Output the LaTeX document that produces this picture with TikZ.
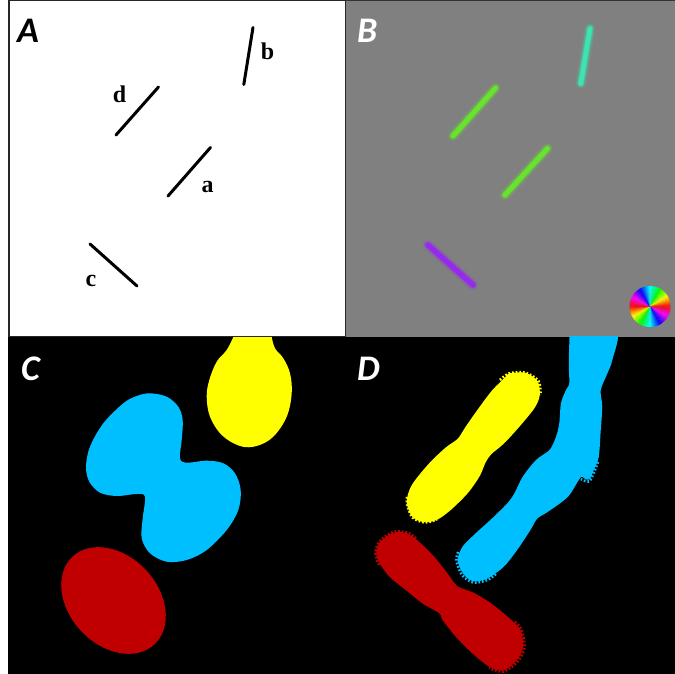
\documentclass[tikz,border=0pt]{standalone}
\usepackage{fontspec}
\newfontfamily\labelfont{Carlito}
\newfontfamily\letterfont{Liberation Serif}
\definecolor{skyc}{RGB}{0,191,255}
\definecolor{yelc}{RGB}{255,255,0}
\definecolor{redc}{RGB}{192,0,0}
\definecolor{graybg}{RGB}{128,128,128}
\definecolor{tealc}{RGB}{60,228,178}
\definecolor{greenc}{RGB}{104,228,44}
\definecolor{violc}{RGB}{150,40,240}
\newcommand\glowseg[3]{%
  \foreach \w/\o in {11/0.10,9/0.16,7/0.3,5.5/0.6,4/1}{%
    \draw[#1, line width=\w, line cap=round, opacity=\o] #2 -- #3;}}
\tikzset{
  panellabel/.style={font=\labelfont\bfseries\itshape\fontsize{36}{36}\selectfont, inner sep=0, anchor=base west},
  letterlabel/.style={font=\letterfont\bfseries\fontsize{24}{24}\selectfont, inner sep=0, anchor=base},
  stickline/.style={black, line width=3, line cap=round},
  teeth/.style={#1, line width=2.6, dash pattern=on 1.7 off 1.9},
  rod/.style={fill=#1, draw=#1, line width=3.5, line join=round},
}
\begin{document}
\begin{tikzpicture}[x=1pt,y=-1pt]
\useasboundingbox (0,0) rectangle (675,674);
\fill[white] (0,0) rectangle (675,674);

% ---------- panel backgrounds ----------
\fill[black] (8,336) rectangle (675,674);
\fill[graybg] (345.5,0) rectangle (675,336.5);
\draw[black!85, line width=1.5] (9,0.75) rectangle (345.5,336.5);
\draw[black!80, line width=1.5] (345.5,0.75) -- (675,0.75);

% ---------- panel A: line segments ----------
\draw[stickline] (253,27.5) -- (243.8,84.5);
\draw[stickline] (158.5,87) -- (116,135);
\draw[stickline] (210.5,147.5) -- (168,196);
\draw[stickline] (90,244) -- (137,286);
\node[letterlabel] (lb) at (267.5,59.5) {b};
\node[letterlabel] (ld) at (119.5,103) {d};
\node[letterlabel] (la) at (207.5,193) {a};
\node[letterlabel] (lc) at (91,286) {c};
\node[panellabel] (pA) at (17,42.5) {A};

% ---------- panel B: orientation-coded segments ----------
\glowseg{tealc}{(590,28.5)}{(580.8,83.5)}
\glowseg{greenc}{(495.5,88)}{(453,136)}
\glowseg{greenc}{(547.5,148.5)}{(505,195)}
\glowseg{violc}{(428,245)}{(473,285)}
\node[panellabel, text=white] (pB) at (357,42.5) {B};

% orientation colour wheel
\foreach \i in {0,...,119}{
  \pgfmathsetmacro\a{\i*3}
  \pgfmathsetmacro\h{mod(720-2*(\a+1.5),360)/360}
  \definecolor{wc}{hsb}{\h,1,1}
  \fill[wc] (650,306.5) -- ++(\a:20.5) arc[start angle=\a, delta angle=3.3, radius=20.5] -- cycle;
}

% ---------- panel C: blobs ----------
\fill[yelc] plot[smooth, tension=0.6] coordinates {
  (233.3,337) (226.7,350) (216.7,361.7) (209.3,380) (206.7,396.7) (210,416.7)
  (221.7,435) (240,446) (256.7,446) (273.3,436.7) (286.7,416.7) (291.7,393.3)
  (290,373.3) (283.3,358.3) (275,348.3) (271.7,337)} -- cycle;

\fill[skyc] plot[smooth cycle, tension=0.55] coordinates {
  (150,393.3) (166.7,396.7) (178.3,406.7) (182.7,420) (181.7,440) (180,458.3)
  (186.7,462.7) (206.7,460.7) (223.3,463.3) (235,473.3) (240.7,490) (238.3,510)
  (226.7,530) (206.7,550) (186.7,560) (166.7,561.7) (150,553.3) (141.7,538.3)
  (142.7,518.3) (145,496.7) (136.7,494) (116.7,496) (100,492.7) (89.3,481.7)
  (86,466.7) (90,446.7) (103.3,423.3) (123.3,403.3) (136.7,396)};

\fill[redc, shift={(113.5,600.5)}, rotate=-47] (0,0) ellipse [x radius=60, y radius=44.5];
\node[panellabel, text=white] (pC) at (21,380) {C};

% ---------- panel D: segmented objects ----------
\begin{scope}
\clip (8,336.8) rectangle (675,674);
\path[rod=yelc] plot[smooth cycle, tension=0.5] coordinates {
  (510,375) (525,374.5) (536,382) (538,395) (533.3,406.7) (520,423.3)
  (503.3,441.7) (490,453) (484,461.7) (478.3,475) (466.7,491.7) (450,508.3)
  (436.7,518) (425,520.5) (414,516) (408.5,502) (413.3,486) (430,465)
  (446.7,449) (459,440) (466.7,428.3) (478.3,411.7) (493.3,391.7) (506.7,378.3)};
\draw[teeth=yelc] plot[smooth, tension=0.5] coordinates {
  (500,380) (509,373.5) (525,372.5) (538.5,381) (540.5,395)};
\draw[teeth=yelc] plot[smooth, tension=0.5] coordinates {
  (407,497) (407,504) (412.5,517.5) (425,522.5) (437,519.5)};

\path[rod=skyc] plot[smooth, tension=0.5] coordinates {
  (571.5,330) (614.5,330) (610.5,360) (605.5,373.3) (599,390) (600.5,406.7)
  (599,430) (597,456.7) (592.3,469) (588,478) (580,475.5) (566.7,495.5)
  (546.7,510.5) (536,517.3) (529,529) (515.7,549) (502.5,565.5) (486.5,577)
  (473.5,579.5) (464.5,572.5) (459.5,560) (464.3,547.2) (477.5,534)
  (494,519) (509,504) (516,494) (524.3,477.5) (537.5,461) (551,451)
  (557.7,437.2) (561,423.5) (562.7,403.5) (567.7,390.5) (571,383.5) (570.5,363.3)
  (571.5,330)} -- cycle;
\draw[teeth=skyc] plot[smooth, tension=0.5] coordinates {
  (458,552) (456.5,561) (462,575) (473.3,582.5) (487.5,580) (497,573)};
\draw[teeth=skyc] plot[smooth, tension=0.5] coordinates {
  (598,462) (594.5,471) (589,481.5) (581,479)};

\path[rod=redc] plot[smooth cycle, tension=0.5] coordinates {
  (381,543.5) (393.3,534.5) (406.7,535) (419,544) (432.3,557.2) (445.7,573.8)
  (456.2,587.5) (472.8,594.3) (489.3,604.2) (505.8,617.5) (518.8,630.5) (521.3,646.5)
  (515.5,659) (503,668.7) (490.5,665.5) (474,652.5) (457.4,635.9) (444.2,619.3)
  (441,612.3) (424,602.3) (407.4,589.1) (391,575.8) (381.3,562.7) (378,553.3)};
\draw[teeth=redc] plot[smooth, tension=0.5] coordinates {
  (379,565) (375.5,553.3) (379,542) (393,532) (407,532.5) (417,539)};
\draw[teeth=redc] plot[smooth, tension=0.5] coordinates {
  (515,622) (521.5,629.5) (524.5,647) (518,661) (503.5,671.5) (489,668)};
\end{scope}
\node[panellabel, text=white] (pD) at (357,380) {D};
\end{tikzpicture}
\end{document}
